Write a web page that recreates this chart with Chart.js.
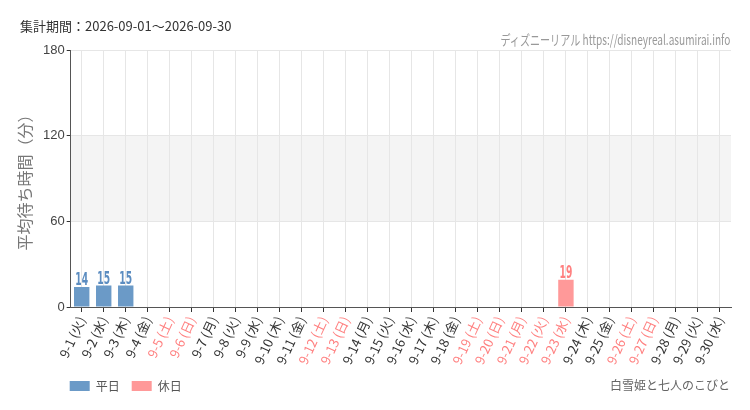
<!DOCTYPE html>
<html>
<head>
<meta charset="utf-8">
<script src="https://cdn.jsdelivr.net/npm/chart.js@4"></script>
<style>
  body { margin: 0; background: #fff; }
  #wrap { position: relative; width: 750px; height: 410px; }
  #period { position: absolute; left: 20px; top: 16px; font: 13px "Noto Sans CJK JP", sans-serif; color: #333; }
  #site { position: absolute; right: 20px; top: 29px; font: 14px "Noto Sans CJK JP", sans-serif; color: #999;
          white-space: nowrap; transform: scaleX(0.72); transform-origin: right center; }
  #attr { position: absolute; right: 20px; top: 376px; font: 12px "Noto Sans CJK JP", sans-serif; color: #666; }
</style>
</head>
<body>
<div id="wrap">
  <canvas id="myChart" width="750" height="410"></canvas>
  <div id="period">集計期間：2026-09-01～2026-09-30</div>
  <div id="site">ディズニーリアル https://disneyreal.asumirai.info</div>
  <div id="attr">白雪姫と七人のこびと</div>
</div>
<script>
const days = ['火','水','木','金','土','日','月','火','水','木','金','土','日','月','火',
    '水','木','金','土','日','月','火','水','木','金','土','日','月','火','水'];
const holidays = [5, 6, 12, 13, 19, 20, 21, 22, 23, 26, 27];
const labels = days.map((d, i) => '9-' + (i + 1) + ' (' + d + ')');

const weekdayWait = [14, 15, 15, null, null, null, null, null, null, null,
    null, null, null, null, null, null, null, null, null, null,
    null, null, null, null, null, null, null, null, null, null];
const holidayWait = [null, null, null, null, null, null, null, null, null, null,
    null, null, null, null, null, null, null, null, null, null,
    null, null, 19, null, null, null, null, null, null, null];
const yTicks = [0, 60, 120, 180];

const blue = '#6b9ac7';
const red = '#ff9999';

// gray band between 60 and 120
const bandPlugin = {
    id: 'band',
    beforeDraw(chart) {
        const { ctx, chartArea, scales } = chart;
        const y1 = scales.y.getPixelForValue(120);
        const y2 = scales.y.getPixelForValue(60);
        ctx.save();
        ctx.fillStyle = '#f4f4f4';
        ctx.fillRect(chartArea.left, y1, chartArea.right - chartArea.left, y2 - y1);
        ctx.restore();
    }
};

// values above bars (narrow bold digits)
const valuePlugin = {
    id: 'values',
    afterDatasetsDraw(chart) {
        const ctx = chart.ctx;
        chart.data.datasets.forEach((ds, di) => {
            const meta = chart.getDatasetMeta(di);
            meta.data.forEach((bar, i) => {
                if (ds.data[i] == null) return;
                ctx.save();
                ctx.font = 'bold 17px "DejaVu Sans Condensed", "DejaVu Sans", sans-serif';
                ctx.textAlign = 'center';
                ctx.textBaseline = 'alphabetic';
                ctx.fillStyle = ds.labelColor;
                ctx.translate(bar.x, bar.y - 2);
                ctx.scale(0.6, 1);
                ctx.fillText(ds.data[i], 0, 0);
                ctx.restore();
            });
        });
    }
};

// move legend flush with the plot's left edge
const legendShift = {
    id: 'legendShift',
    afterLayout(chart) {
        const lg = chart.legend;
        lg.left -= 13;
        lg.right -= 13;
        lg.legendHitBoxes.forEach(b => { b.left -= 13; });
    }
};

const ctx = document.getElementById('myChart').getContext('2d');
const myChart = new Chart(ctx, { //eslint-disable-line
    type: 'bar',
    data: {
        labels: labels,
        datasets: [
            {
                label: '平日',
                data: weekdayWait,
                backgroundColor: blue,
                labelColor: '#5b8cc0'
            },
            {
                label: '休日',
                data: holidayWait,
                backgroundColor: red,
                labelColor: '#ff8080'
            }
        ]
    },
    options: {
        responsive: false,
        animation: false,
        devicePixelRatio: 1,
        categoryPercentage: 1,
        barPercentage: 0.7,
        layout: { padding: { left: 15, right: 19, top: 50, bottom: 8 } },
        plugins: {
            legend: {
                position: 'bottom',
                align: 'start',
                fullSize: false,
                labels: {
                    boxWidth: 20,
                    boxHeight: 10,
                    padding: 12,
                    color: '#555',
                    font: { size: 12, family: '"Noto Sans CJK JP", sans-serif' }
                }
            },
            tooltip: { enabled: false }
        },
        scales: {
            x: {
                stacked: true,
                grid: { offset: false, color: '#e6e6e6', tickColor: '#333', tickLength: 5 },
                border: { color: '#555' },
                ticks: {
                    minRotation: 65,
                    maxRotation: 65,
                    autoSkip: false,
                    padding: 2,
                    font: { size: 13, family: '"Noto Sans CJK JP", sans-serif' },
                    color: c => holidays.includes(c.index + 1) ? '#ff8080' : '#333'
                },
                afterFit: s => { s.height = 61; }
            },
            y: {
                min: 0,
                max: 180,
                afterBuildTicks: s => { s.ticks = yTicks.map(v => ({ value: v })); },
                grid: { color: '#e6e6e6', tickColor: '#333', tickLength: 4 },
                border: { color: '#555' },
                ticks: {
                    padding: 2,
                    color: '#444',
                    font: { size: 13, family: '"Liberation Sans", sans-serif' }
                },
                title: {
                    display: true,
                    text: '平均待ち時間（分）',
                    color: '#777',
                    padding: { top: 0, bottom: 2 },
                    font: { size: 16, family: '"Noto Sans CJK JP", sans-serif' }
                },
                afterFit: s => { s.width = 55.7; }
            }
        }
    },
    plugins: [bandPlugin, valuePlugin, legendShift]
});
</script>
</body>
</html>
